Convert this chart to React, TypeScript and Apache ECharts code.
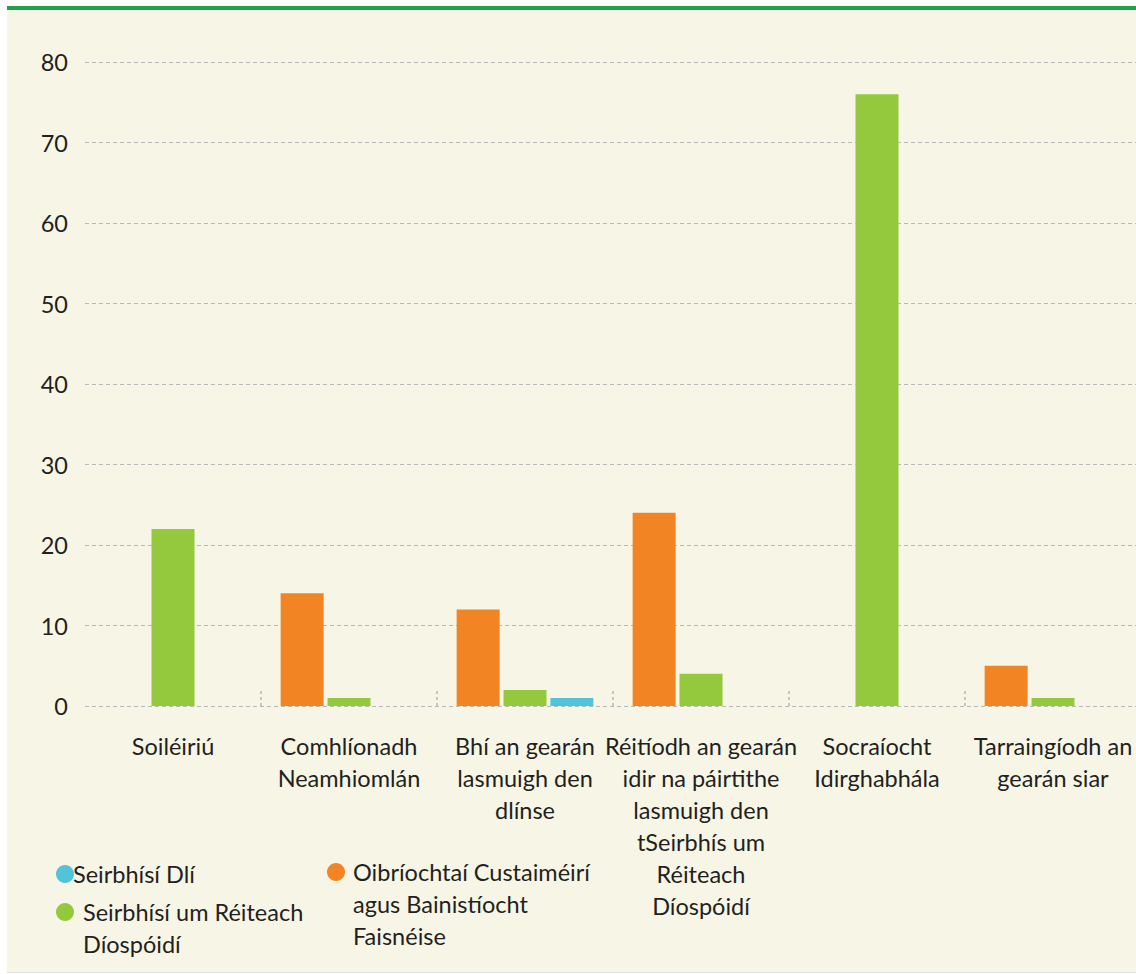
import React, { useEffect, useRef } from "react";
import * as echarts from "echarts";

const categories = [
  "Soiléiriú",
  "Comhlíonadh\nNeamhiomlán",
  "Bhí an gearán\nlasmuigh den\ndlínse",
  "Réitíodh an gearán\nidir na páirtithe\nlasmuigh den\ntSeirbhís um\nRéiteach\nDíospóidí",
  "Socraíocht\nIdirghabhála",
  "Tarraingíodh an\ngearán siar",
];

const seriesNames = [
  "Oibríochtaí Custaiméirí agus Bainistíocht Faisnéise",
  "Seirbhísí um Réiteach Díospóidí",
  "Seirbhísí Dlí",
];

const customerOpsValues = [0, 14, 12, 24, 0, 5];
const disputeResValues = [22, 1, 2, 4, 76, 1];
const legalValues = [0, 0, 1, 0, 0, 0];

const yTicks = [0, 10, 20, 30, 40, 50, 60, 70, 80];

const colors = ["#f38424", "#95c93d", "#52c4d9"];

const FONT = "Lato, 'Noto Sans', sans-serif";
const TEXT = "#231f20";
const FS = 23.5;

export default function App() {
  const ref = useRef<HTMLDivElement>(null);

  useEffect(() => {
    if (!ref.current) return;
    const chart = echarts.init(ref.current, undefined, { renderer: "svg" });
    const legendItems = [
      { x: 65, y: 874, color: colors[2], tx: 73, lines: ["Seirbhísí Dlí"] },
      { x: 65, y: 912, color: colors[1], tx: 83, lines: ["Seirbhísí um Réiteach", "Díospóidí"] },
      { x: 336, y: 872, color: colors[0], tx: 353, lines: ["Oibríochtaí Custaiméirí", "agus Bainistíocht", "Faisnéise"] },
    ];
    const graphic: any[] = [];
    legendItems.forEach((it) => {
      graphic.push({
        type: "circle",
        shape: { cx: it.x, cy: it.y, r: 9 },
        style: { fill: it.color },
      });
      graphic.push({
        type: "text",
        x: it.tx,
        y: it.y - 16,
        style: {
          text: it.lines.join("\n"),
          fill: TEXT,
          font: `${FS}px ${FONT}`,
          lineHeight: 32,
          verticalAlign: "top",
        },
      });
    });

    chart.setOption({
      animation: false,
      textStyle: { fontFamily: FONT },
      grid: { left: 85, right: 9, top: 62, bottom: 268, containLabel: false },
      xAxis: {
        type: "category",
        data: categories,
        axisLine: { show: false },
        axisTick: {
          show: true,
          inside: true,
          length: 16,
          interval: (index: number) => index !== 0,
          lineStyle: { color: "#b5b5b5", type: [3, 3], width: 1.5 },
        },
        axisLabel: {
          color: TEXT,
          fontSize: FS,
          fontFamily: FONT,
          lineHeight: 32,
          margin: 24,
          interval: 0,
          align: "center",
        },
      },
      yAxis: {
        type: "value",
        min: 0,
        max: yTicks[yTicks.length - 1],
        interval: yTicks[1] - yTicks[0],
        axisLine: { show: false },
        axisTick: { show: false },
        axisLabel: {
          color: TEXT,
          fontSize: FS,
          fontFamily: FONT,
          margin: 17,
        },
        splitLine: {
          show: true,
          lineStyle: { color: "#b8b8b8", type: [4, 3], width: 1 },
        },
      },
      series: [
        {
          name: seriesNames[0],
          type: "bar",
          data: customerOpsValues,
          barWidth: 43,
          barGap: "9%",
          itemStyle: { color: colors[0] },
        },
        {
          name: seriesNames[1],
          type: "bar",
          data: disputeResValues,
          barWidth: 43,
          barGap: "9%",
          itemStyle: { color: colors[1] },
        },
        {
          name: seriesNames[2],
          type: "bar",
          data: legalValues,
          barWidth: 43,
          barGap: "9%",
          itemStyle: { color: colors[2] },
        },
      ],
      graphic,
    });
    return () => chart.dispose();
  }, []);

  return (
    <div
      style={{
        position: "fixed",
        left: 0,
        top: 0,
        width: 1136,
        height: 974,
        background: "#ffffff",
        overflow: "hidden",
      }}
    >
      <div
        style={{
          position: "absolute",
          left: 7,
          top: 6,
          width: 1129,
          height: 962,
          background: "#f7f6e6",
          borderTop: "4px solid #20a24b",
          borderBottom: "1px solid #e2e2dc",
        }}
      />
      <div
        ref={ref}
        style={{ position: "absolute", left: 0, top: 0, width: 1150, height: 974 }}
      />
    </div>
  );
}
